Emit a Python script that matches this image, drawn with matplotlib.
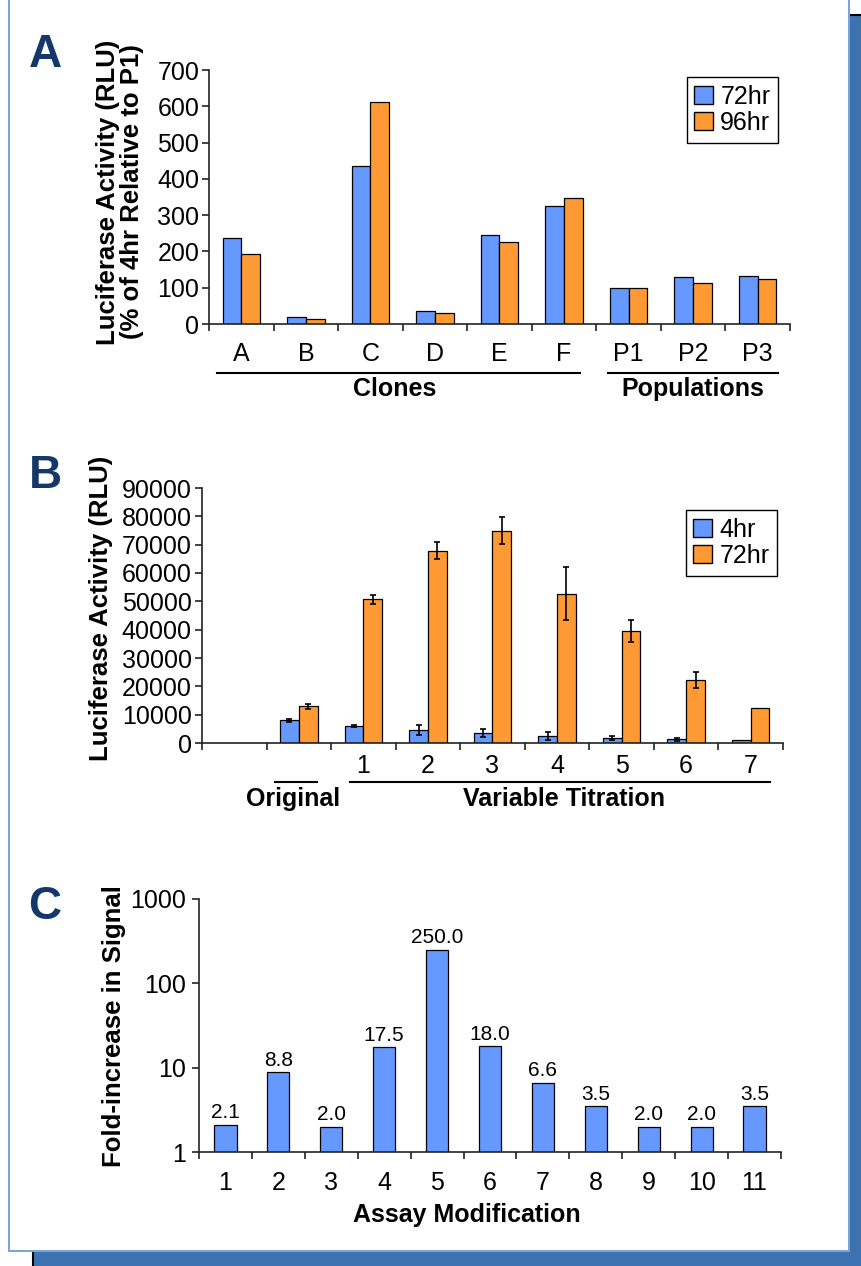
import numpy as np
import matplotlib
matplotlib.use("Agg")
import matplotlib.pyplot as plt
from matplotlib.patches import Rectangle, Patch
from matplotlib.lines import Line2D
from matplotlib.ticker import NullLocator, FixedLocator, FixedFormatter

plt.rcParams['font.family'] = ['Liberation Sans', 'DejaVu Sans']

# ---------------- Data ----------------
# Panel A
a_categories = ["A", "B", "C", "D", "E", "F", "P1", "P2", "P3"]
a_72hr = [237, 19, 436, 36, 244, 326, 100, 129, 132]
a_96hr = [192, 13, 611, 31, 225, 348, 100, 114, 123]
a_yticks = [0, 100, 200, 300, 400, 500, 600, 700]

# Panel B (first category is empty)
b_categories = ["", "", "1", "2", "3", "4", "5", "6", "7"]
b_4hr = [np.nan, 8000, 5900, 4700, 3500, 2400, 1800, 1300, 1100]
b_4hr_err = [np.nan, 500, 300, 1800, 1400, 1500, 800, 500, 0]
b_72hr = [np.nan, 13000, 50700, 67900, 74900, 52700, 39500, 22200, 12500]
b_72hr_err = [np.nan, 900, 1700, 3000, 4700, 9400, 3800, 2700, 0]
b_yticks = [0, 10000, 20000, 30000, 40000, 50000, 60000, 70000, 80000, 90000]

# Panel C
c_categories = ["1", "2", "3", "4", "5", "6", "7", "8", "9", "10", "11"]
c_fold = [2.1, 8.8, 2.0, 17.5, 250.0, 18.0, 6.6, 3.5, 2.0, 2.0, 3.5]
c_yticks = [1, 10, 100, 1000]

BLUE = '#6699ff'
ORANGE = '#ff9933'
NAVY = '#14386a'
TICK_FS = 18

W, H = 862, 1266
fig = plt.figure(figsize=(W / 100, H / 100), dpi=100)


def fx(px):
    return px / W


def fy(py):
    return 1 - py / H


# background: shadow + white panel
fig.patches.append(Rectangle((fx(33), fy(1300)), 1.0, fy(15) - fy(1300),
                             transform=fig.transFigure, facecolor='#3c72b1',
                             edgecolor='black', lw=1.5, zorder=-10))
fig.patches.append(Rectangle((fx(9), fy(1251)), fx(849) - fx(9), 1.2,
                             transform=fig.transFigure, facecolor='white',
                             edgecolor='#7fa3d6', lw=1.5, zorder=-9))


def add_axes(l, r, t, b):
    ax = fig.add_axes([fx(l), fy(b), fx(r) - fx(l), fy(t) - fy(b)])
    ax.set_facecolor('none')
    return ax


def style(ax, n, xpad):
    for s in ['top', 'right']:
        ax.spines[s].set_visible(False)
    for s in ['left', 'bottom']:
        ax.spines[s].set_color('#222222')
        ax.spines[s].set_linewidth(1.2)
    ax.set_xlim(-0.5, n - 0.5)
    ax.set_xticks(np.arange(n))
    ax.set_xticks(np.arange(n + 1) - 0.5, minor=True)
    ax.tick_params(axis='x', which='major', length=0, labelsize=TICK_FS,
                   pad=xpad)
    ax.tick_params(axis='x', which='minor', length=5, width=1.2,
                   direction='out', color='#222222')
    ax.tick_params(axis='y', which='major', length=5, width=1.2,
                   direction='out', color='#222222', labelsize=TICK_FS)


def legend(ax, handles, labels, xr, yt):
    leg = ax.legend(handles, labels, loc='upper right',
                    bbox_to_anchor=(fx(xr), fy(yt)),
                    bbox_transform=fig.transFigure, frameon=True,
                    fancybox=False, edgecolor='black', framealpha=1,
                    fontsize=18, handlelength=0.75, handleheight=0.75,
                    handletextpad=0.3, borderpad=0.3, labelspacing=0.1,
                    borderaxespad=0)
    leg.get_frame().set_linewidth(1.0)


bw = 0.29

# ---------------- Panel A ----------------
axA = add_axes(209, 790, 70, 324)
xa = np.arange(len(a_categories))
axA.bar(xa - bw / 2, a_72hr, bw, color=BLUE, edgecolor='black', lw=0.9)
axA.bar(xa + bw / 2, a_96hr, bw, color=ORANGE, edgecolor='black', lw=0.9)
style(axA, len(a_categories), 13)
axA.set_xticklabels(a_categories)
axA.set_ylim(0, 700)
axA.set_yticks(a_yticks)
axA.tick_params(axis='y', pad=2)
legend(axA, [Patch(facecolor=BLUE, edgecolor='black'),
             Patch(facecolor=ORANGE, edgecolor='black')],
       ['72hr', '96hr'], 778, 77)

fig.add_artist(Line2D([fx(217), fx(580)], [fy(373)] * 2,
                      transform=fig.transFigure, color='black', lw=1.5))
fig.add_artist(Line2D([fx(608), fx(778)], [fy(373)] * 2,
                      transform=fig.transFigure, color='black', lw=1.5))
fig.text(fx(395), fy(389), 'Clones', ha='center', va='center',
         fontsize=18, fontweight='bold')
fig.text(fx(693), fy(389), 'Populations', ha='center', va='center',
         fontsize=18, fontweight='bold')
fig.text(fx(120), fy(192), 'Luciferase Activity (RLU)\n(% of 4hr Relative to P1)',
         ha='center', va='center', rotation=90, fontsize=18.5,
         fontweight='bold', linespacing=1.05, multialignment='center')
fig.text(fx(45), fy(55), 'A', ha='center', va='center', fontsize=33,
         fontweight='bold', color=NAVY)

# ---------------- Panel B ----------------
axB = add_axes(202, 783, 488, 743)
xb = np.arange(len(b_categories))
v4 = np.array(b_4hr, dtype=float)
v72 = np.array(b_72hr, dtype=float)
e4 = np.array(b_4hr_err, dtype=float)
e72 = np.array(b_72hr_err, dtype=float)
axB.bar(xb - bw / 2, v4, bw, color=BLUE, edgecolor='black', lw=0.9)
axB.bar(xb + bw / 2, v72, bw, color=ORANGE, edgecolor='black', lw=0.9)
m4 = np.nan_to_num(e4) > 0
m72 = np.nan_to_num(e72) > 0
axB.errorbar(xb[m4] - bw / 2, v4[m4], yerr=e4[m4], fmt='none', ecolor='black',
             elinewidth=1.2, capsize=2.5, capthick=1.2, zorder=3)
axB.errorbar(xb[m72] + bw / 2, v72[m72], yerr=e72[m72], fmt='none',
             ecolor='black', elinewidth=1.2, capsize=2.5, capthick=1.2,
             zorder=3)
style(axB, len(b_categories), 8)
axB.set_xticklabels(b_categories)
axB.set_ylim(0, 90000)
axB.set_yticks(b_yticks)
axB.tick_params(axis='y', pad=2.5)
legend(axB, [Patch(facecolor=BLUE, edgecolor='black'),
             Patch(facecolor=ORANGE, edgecolor='black')],
       ['4hr', '72hr'], 777, 510)

fig.add_artist(Line2D([fx(275), fx(317)], [fy(782)] * 2,
                      transform=fig.transFigure, color='black', lw=1.5))
fig.add_artist(Line2D([fx(350), fx(770)], [fy(782)] * 2,
                      transform=fig.transFigure, color='black', lw=1.5))
fig.text(fx(293), fy(799), 'Original', ha='center', va='center',
         fontsize=18, fontweight='bold')
fig.text(fx(564), fy(799), 'Variable Titration', ha='center', va='center',
         fontsize=18, fontweight='bold')
fig.text(fx(101), fy(608), 'Luciferase Activity (RLU)', ha='center',
         va='center', rotation=90, fontsize=18.5, fontweight='bold')
fig.text(fx(45), fy(476), 'B', ha='center', va='center', fontsize=33,
         fontweight='bold', color=NAVY)

# ---------------- Panel C ----------------
axC = add_axes(199, 781, 899, 1152)
xc = np.arange(len(c_categories))
axC.bar(xc, c_fold, 0.42, color=BLUE, edgecolor='black', lw=0.9)
axC.set_yscale('log')
axC.set_ylim(1, 1000)
style(axC, len(c_categories), 13.5)
axC.set_xticklabels(c_categories)
axC.yaxis.set_major_locator(FixedLocator(c_yticks))
axC.yaxis.set_major_formatter(FixedFormatter([str(v) for v in c_yticks]))
axC.yaxis.set_minor_locator(NullLocator())
axC.tick_params(axis='y', pad=4)
for xi, v in zip(xc, c_fold):
    axC.text(xi, v * 1.07, f"{v:.1f}", ha='center', va='bottom', fontsize=15)

fig.text(fx(467), fy(1215), 'Assay Modification', ha='center', va='center',
         fontsize=18, fontweight='bold')
fig.text(fx(114), fy(1026), 'Fold-increase in Signal', ha='center',
         va='center', rotation=90, fontsize=18.5, fontweight='bold')
fig.text(fx(45), fy(907), 'C', ha='center', va='center', fontsize=33,
         fontweight='bold', color=NAVY)

fig.savefig('out.png', dpi=100)
